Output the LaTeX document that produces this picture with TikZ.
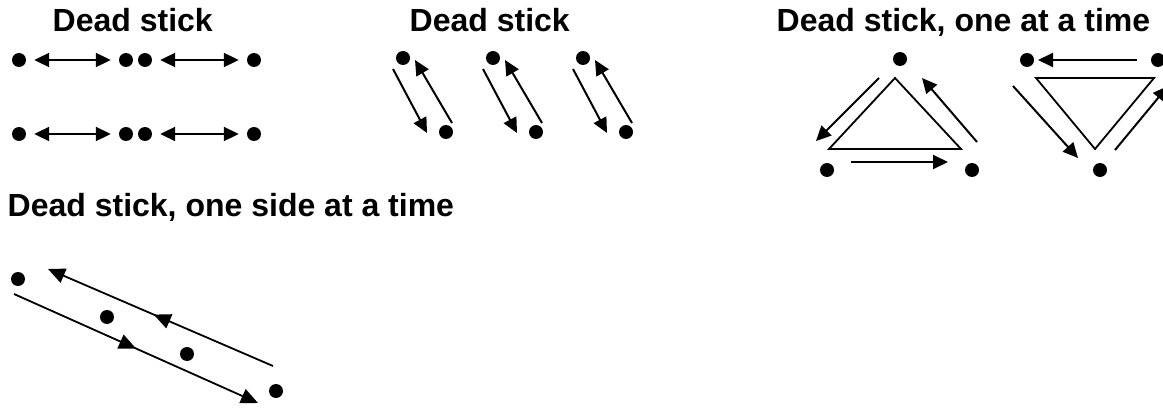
\documentclass[tikz,border=0pt]{standalone}
\usepackage{fontspec}
\setmainfont{Liberation Sans}
\usetikzlibrary{arrows.meta,decorations.markings}
\begin{document}
\begin{tikzpicture}[x=1pt,y=-1pt,
  blob/.style={circle,fill=black,inner sep=0pt,minimum size=14pt},
  ttl/.style={anchor=base west,inner sep=0pt,font=\fontsize{32}{32}\selectfont\bfseries},
  arr/.style={line width=2pt,-{Triangle[length=15pt,width=14pt]}},
  darr/.style={line width=2pt,{Triangle[length=15pt,width=14pt]}-{Triangle[length=15pt,width=14pt]},shorten <=8pt,shorten >=8pt},
  tri/.style={line width=1.8pt,line join=miter},
  midarr/.style={line width=1.8pt,postaction={decorate},decoration={markings,mark=at position #1 with {\arrow{Triangle[length=17pt,width=15pt]}}}}
]
\useasboundingbox (0,0) rectangle (1163,412);
\clip (0,0) rectangle (1163,412);
% titles
\node[ttl] (t1) at (52.5,32) {Dead stick};
\node[ttl] (t2) at (409.5,32) {Dead stick};
\node[ttl] (t3) at (776.5,32) {Dead stick, one at a time};
\node[ttl] (t4) at (7.5,216) {Dead stick, one side at a time};
% section 1
\foreach \r/\y in {1/60,2/134}{
  \node[blob] (a\r1) at (19,\y) {};
  \node[blob] (a\r2) at (126,\y) {};
  \node[blob] (a\r3) at (145,\y) {};
  \node[blob] (a\r4) at (254,\y) {};
  \draw[darr] (a\r1) -- (a\r2);
  \draw[darr] (a\r3) -- (a\r4);
}
% section 2
\foreach \i/\x in {1/403,2/493,3/583}{
  \node[blob] (p\i t) at (\x,58) {};
  \node[blob] (p\i b) at (\x+43,132) {};
  \coordinate (p\i ds) at (\x-10,69);
  \coordinate (p\i de) at (\x+24,133);
  \coordinate (p\i us) at (\x+49,123);
  \coordinate (p\i ue) at (\x+12,60);
  \draw[arr] (p\i ds) -- (p\i de);
  \draw[arr] (p\i us) -- (p\i ue);
}
% section 3, triangle 1
\node[blob] (q1) at (900,59) {};
\node[blob] (q2) at (827,170) {};
\node[blob] (q3) at (972,170) {};
\coordinate (qa) at (895,78);
\coordinate (qb) at (829,149);
\coordinate (qc) at (961,149);
\draw[tri] (qa) -- (qb) -- (qc) -- cycle;
\coordinate (qls) at (879,78);
\coordinate (qle) at (816,141);
\coordinate (qbs) at (851,162);
\coordinate (qbe) at (948,162);
\coordinate (qrs) at (977,142);
\coordinate (qre) at (922,78);
\draw[arr] (qls) -- (qle);
\draw[arr] (qbs) -- (qbe);
\draw[arr] (qrs) -- (qre);
% section 3, triangle 2
\node[blob] (s1) at (1027,60) {};
\node[blob] (s2) at (1158,60) {};
\node[blob] (s3) at (1100,170) {};
\coordinate (sa) at (1036,78);
\coordinate (sb) at (1154,78);
\coordinate (sc) at (1095,149);
\draw[tri] (sa) -- (sb) -- (sc) -- cycle;
\coordinate (sts) at (1137,60);
\coordinate (ste) at (1038,60);
\coordinate (sls) at (1013,86);
\coordinate (sle) at (1078,158);
\coordinate (srs) at (1115,150);
\coordinate (sre) at (1168,86);
\draw[arr] (sts) -- (ste);
\draw[arr] (sls) -- (sle);
\draw[arr] (srs) -- (sre);
% section 4
\node[blob] (d1) at (18,279) {};
\node[blob] (d2) at (107,317) {};
\node[blob] (d3) at (187,354) {};
\node[blob] (d4) at (276,391) {};
\coordinate (us) at (273,366);
\coordinate (ue) at (48,269);
\coordinate (ls) at (14,294);
\coordinate (le) at (258,403);
\draw[midarr=0.53,-{Triangle[length=17pt,width=15pt]}] (us) -- (ue);
\draw[midarr=0.5,-{Triangle[length=17pt,width=15pt]}] (ls) -- (le);
\end{tikzpicture}
\end{document}
